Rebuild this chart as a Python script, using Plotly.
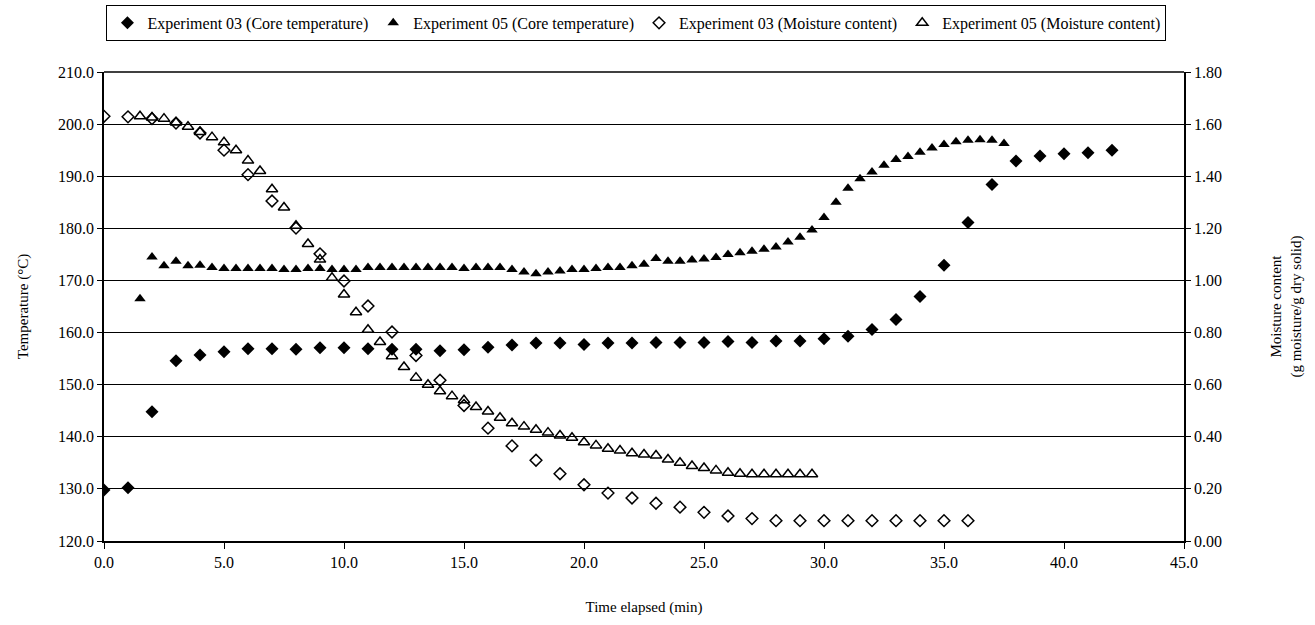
import plotly.graph_objects as go

# ---- Data ----
exp03_time = [0, 1, 2, 3, 4, 5, 6, 7, 8, 9, 10, 11, 12, 13, 14, 15, 16, 17, 18, 19, 20,
              21, 22, 23, 24, 25, 26, 27, 28, 29, 30, 31, 32, 33, 34, 35, 36, 37, 38, 39, 40, 41, 42]
exp03_temp = [129.8, 130.2, 144.8, 154.6, 155.7, 156.3, 156.9, 156.9, 156.8, 157.1, 157.1,
              156.9, 156.8, 156.8, 156.5, 156.7, 157.2, 157.6, 158.0, 158.0, 157.7,
              158.0, 158.0, 158.1, 158.1, 158.1, 158.3, 158.1, 158.4, 158.4, 158.8,
              159.3, 160.6, 162.5, 166.9, 172.9, 181.1, 188.4, 192.9, 193.9, 194.3, 194.5, 195.0]

exp05_time_T = [1.5, 2.0, 2.5, 3.0, 3.5, 4.0, 4.5, 5.0, 5.5, 6.0, 6.5, 7.0, 7.5, 8.0, 8.5, 9.0,
                9.5, 10.0, 10.5, 11.0, 11.5, 12.0, 12.5, 13.0, 13.5, 14.0, 14.5, 15.0, 15.5,
                16.0, 16.5, 17.0, 17.5, 18.0, 18.5, 19.0, 19.5, 20.0, 20.5, 21.0, 21.5, 22.0,
                22.5, 23.0, 23.5, 24.0, 24.5, 25.0, 25.5, 26.0, 26.5, 27.0, 27.5, 28.0, 28.5,
                29.0, 29.5, 30.0, 30.5, 31.0, 31.5, 32.0, 32.5, 33.0, 33.5, 34.0, 34.5, 35.0,
                35.5, 36.0, 36.5, 37.0, 37.5]
exp05_temp = [166.5, 174.5, 172.8, 173.7, 172.8, 172.9, 172.5, 172.3, 172.3, 172.3, 172.3,
              172.3, 172.1, 172.1, 172.3, 172.3, 172.1, 172.1, 172.1, 172.5, 172.5, 172.5,
              172.5, 172.5, 172.5, 172.5, 172.5, 172.3, 172.5, 172.5, 172.5, 172.1, 171.6,
              171.3, 171.6, 171.8, 172.1, 172.1, 172.3, 172.5, 172.5, 172.8, 173.1, 174.2,
              173.7, 173.7, 173.9, 174.1, 174.4, 175.0, 175.3, 175.6, 176.0, 176.4, 177.4,
              178.3, 179.7, 182.1, 185.0, 187.7, 189.5, 190.8, 192.1, 193.2, 193.8, 194.6,
              195.4, 196.1, 196.6, 196.9, 197.0, 196.9, 196.3]

exp03_time_M = [0, 1, 2, 3, 4, 5, 6, 7, 8, 9, 10, 11, 12, 13, 14, 15, 16, 17, 18, 19, 20,
                21, 22, 23, 24, 25, 26, 27, 28, 29, 30, 31, 32, 33, 34, 35, 36]
exp03_moist = [1.630, 1.628, 1.621, 1.604, 1.566, 1.500, 1.406, 1.305, 1.201, 1.102, 0.998,
               0.902, 0.802, 0.712, 0.617, 0.520, 0.433, 0.365, 0.310, 0.258, 0.216,
               0.184, 0.165, 0.145, 0.130, 0.110, 0.096, 0.086, 0.078, 0.078, 0.078,
               0.078, 0.078, 0.078, 0.078, 0.078, 0.078]

exp05_time_M = [1.5, 2.0, 2.5, 3.0, 3.5, 4.0, 4.5, 5.0, 5.5, 6.0, 6.5, 7.0, 7.5, 8.0, 8.5, 9.0,
                9.5, 10.0, 10.5, 11.0, 11.5, 12.0, 12.5, 13.0, 13.5, 14.0, 14.5, 15.0, 15.5,
                16.0, 16.5, 17.0, 17.5, 18.0, 18.5, 19.0, 19.5, 20.0, 20.5, 21.0, 21.5, 22.0,
                22.5, 23.0, 23.5, 24.0, 24.5, 25.0, 25.5, 26.0, 26.5, 27.0, 27.5, 28.0, 28.5,
                29.0, 29.5]
exp05_moist = [1.630, 1.625, 1.621, 1.606, 1.590, 1.570, 1.550, 1.530, 1.500, 1.460, 1.420,
               1.350, 1.280, 1.210, 1.140, 1.080, 1.010, 0.946, 0.878, 0.811, 0.764, 0.709,
               0.668, 0.627, 0.600, 0.575, 0.556, 0.540, 0.514, 0.497, 0.473, 0.452, 0.439,
               0.427, 0.416, 0.405, 0.396, 0.379, 0.367, 0.354, 0.347, 0.337, 0.332, 0.328,
               0.313, 0.300, 0.288, 0.280, 0.271, 0.262, 0.258, 0.256, 0.256, 0.256, 0.256,
               0.256, 0.256]

FONT = "Liberation Serif, Times New Roman, DejaVu Serif, serif"

fig = go.Figure()
fig.add_trace(go.Scatter(x=exp03_time, y=exp03_temp, mode="markers",
                         name="Experiment 03 (Core temperature)",
                         marker=dict(symbol="diamond", size=10, color="black")))
fig.add_trace(go.Scatter(x=exp05_time_T, y=exp05_temp, mode="markers",
                         name="Experiment 05 (Core temperature)",
                         marker=dict(symbol="triangle-up", size=10, color="black")))
fig.add_trace(go.Scatter(x=exp03_time_M, y=exp03_moist, mode="markers", yaxis="y2",
                         name="Experiment 03 (Moisture content)",
                         marker=dict(symbol="diamond-open", size=9, color="black",
                                     line=dict(width=1.5, color="black"))))
fig.add_trace(go.Scatter(x=exp05_time_M, y=exp05_moist, mode="markers", yaxis="y2",
                         name="Experiment 05 (Moisture content)",
                         marker=dict(symbol="triangle-up-open", size=10, color="black",
                                     line=dict(width=1.5, color="black"))))

fig.update_layout(
    width=1315, height=625,
    margin=dict(l=104, r=131, t=72, b=84, autoexpand=False),
    paper_bgcolor="white", plot_bgcolor="white",
    font=dict(family=FONT, size=16, color="black"),
    showlegend=True,
    legend=dict(orientation="h", x=0.493, xanchor="center", y=1.143, yanchor="top",
                bordercolor="black", borderwidth=1, font=dict(size=16, family=FONT),
                itemwidth=30, tracegroupgap=0, itemsizing="trace"),
    xaxis=dict(range=[0, 45], dtick=5, tick0=0, tickformat=".1f",
               showgrid=False, zeroline=False, showline=True, linecolor="black",
               linewidth=1.5, ticks="outside", ticklen=6, tickcolor="black",
               title=dict(text="Time elapsed (min)", standoff=32,
                          font=dict(size=15, family=FONT))),
    yaxis=dict(range=[120, 210], dtick=10, tick0=120, tickformat=".1f",
               showgrid=True, gridcolor="black", gridwidth=1, zeroline=False,
               showline=True, linecolor="black", linewidth=1.5, ticks="outside",
               ticklen=5, tickcolor="black",
               title=dict(text="Temperature (°C)", standoff=26,
                          font=dict(size=15, family=FONT))),
    yaxis2=dict(range=[0, 1.8], dtick=0.2, tick0=0, tickformat=".2f", overlaying="y",
                side="right", showgrid=False, zeroline=False, showline=True,
                linecolor="black", linewidth=1.5, ticks="outside", ticklen=5,
                tickcolor="black",
                title=dict(text="Moisture content<br>(g moisture/g dry solid)", standoff=50,
                           font=dict(size=15, family=FONT))),
)

# top border of plot area
fig.add_shape(type="line", xref="paper", yref="paper", x0=0, x1=1, y0=1, y1=1,
              line=dict(color="black", width=1.5))

fig.write_html("out.html")
